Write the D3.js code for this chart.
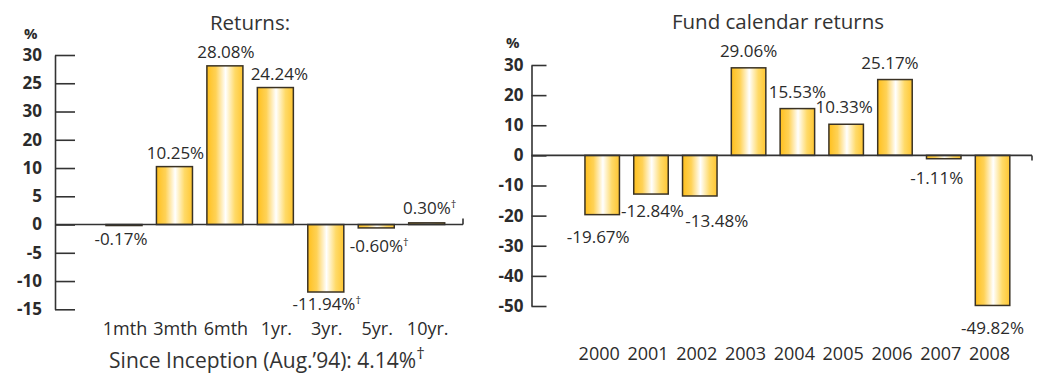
<!DOCTYPE html>
<html>
<head>
<meta charset="utf-8">
<script src="https://cdn.jsdelivr.net/npm/d3@7"></script>
<style>
  html, body { margin: 0; padding: 0; background: #fff; }
  svg { display: block; font-family: "Open Sans", "Noto Sans", sans-serif; }
</style>
</head>
<body>
<svg id="chart" width="1039" height="373"></svg>
<script>
// ---------- DATA ----------
const periodCategories = ["1mth", "3mth", "6mth", "1yr.", "3yr.", "5yr.", "10yr."];
const periodReturns = [-0.17, 10.25, 28.08, 24.24, -11.94, -0.60, 0.30];
const periodDagger = [false, false, false, false, true, true, true];
const periodTickValues = [30, 25, 20, 15, 10, 5, 0, -5, -10, -15];
const periodTickLabels = ["30", "25", "30", "20", "10", "5", "0", "-5", "-10", "-15"];

const yearCategories = ["2000", "2001", "2002", "2003", "2004", "2005", "2006", "2007", "2008"];
const yearReturns = [-19.67, -12.84, -13.48, 29.06, 15.53, 10.33, 25.17, -1.11, -49.82];
const yearTickValues = [30, 20, 10, 0, -10, -20, -30, -40, -50];
const yearTickLabels = ["30", "20", "10", "0", "-10", "-20", "-30", "-40", "-50"];

const leftTitle = "Returns:";
const rightTitle = "Fund calendar returns";
const inceptionText = "Since Inception (Aug.’94): 4.14%";

// ---------- DRAW ----------
const svg = d3.select("#chart");
const textColor = "#2b2b2b";
const axisColor = "#333";

const defs = svg.append("defs");
const grad = defs.append("linearGradient").attr("id", "gold")
  .attr("x1", "0%").attr("x2", "100%").attr("y1", "0%").attr("y2", "0%");
grad.append("stop").attr("offset", "0%").attr("stop-color", "#ffc01e");
grad.append("stop").attr("offset", "25%").attr("stop-color", "#ffd256");
grad.append("stop").attr("offset", "52%").attr("stop-color", "#ffffff");
grad.append("stop").attr("offset", "78%").attr("stop-color", "#ffda68");
grad.append("stop").attr("offset", "100%").attr("stop-color", "#ffc632");

function fmt(v) { return v.toFixed(2) + "%"; }

function drawChart(cfg) {
  const g = svg.append("g");
  const y = d3.scaleLinear().domain(cfg.yDomain).range(cfg.yRange);
  const x = d3.scaleBand().domain(cfg.categories).range(cfg.xRange)
    .paddingInner(cfg.paddingInner).paddingOuter(0);

  // title
  g.append("text").attr("x", cfg.titleX).attr("y", cfg.titleY)
    .attr("text-anchor", "middle").attr("font-size", 20.5)
    .attr("fill", "#333").text(cfg.title);

  // % unit
  g.append("text").attr("x", cfg.pctX).attr("y", cfg.pctY)
    .attr("font-size", 15).attr("font-weight", 700)
    .attr("fill", textColor).text("%");

  // y axis
  const axis = d3.axisLeft(y).tickValues(cfg.tickValues)
    .tickFormat((d, i) => cfg.tickLabels[i])
    .tickSizeInner(-cfg.tickLen).tickSizeOuter(0).tickPadding(cfg.tickPad);
  const ag = g.append("g").attr("transform", `translate(${cfg.axisX},0)`).call(axis);
  ag.select(".domain").attr("stroke", axisColor).attr("stroke-width", 1.6);
  ag.selectAll(".tick line").attr("stroke", axisColor).attr("stroke-width", 1.6);
  ag.selectAll(".tick text").attr("font-size", 17).attr("font-weight", 700)
    .attr("fill", textColor).attr("font-family", "'Open Sans', sans-serif");

  // bars
  g.selectAll("rect.bar").data(cfg.values).enter().append("rect")
    .attr("class", "bar")
    .attr("x", (d, i) => x(cfg.categories[i]))
    .attr("width", x.bandwidth())
    .attr("y", d => y(Math.max(0, d)))
    .attr("height", d => Math.max(1, Math.abs(y(d) - y(0))))
    .attr("fill", "url(#gold)")
    .attr("stroke", "#3a3224").attr("stroke-width", 1.5);

  // zero line
  g.append("line").attr("x1", cfg.axisX).attr("x2", cfg.zeroEnd)
    .attr("y1", y(0)).attr("y2", y(0))
    .attr("stroke", axisColor).attr("stroke-width", 1.6);
  g.append("line").attr("x1", cfg.zeroEnd).attr("x2", cfg.zeroEnd)
    .attr("y1", y(0)).attr("y2", y(0) + cfg.endTick)
    .attr("stroke", axisColor).attr("stroke-width", 1.6);

  // value labels
  cfg.values.forEach((v, i) => {
    const cx = x(cfg.categories[i]) + x.bandwidth() / 2;
    const nudge = cfg.nudge[i];
    const yy = v >= 0 ? y(v) - cfg.posGap : y(v) + cfg.negGap;
    const t = g.append("text")
      .attr("x", cx + nudge[0]).attr("y", yy + nudge[1])
      .attr("text-anchor", "middle").attr("font-size", 17)
      .attr("fill", textColor);
    t.append("tspan").text(fmt(v));
    if (cfg.dagger && cfg.dagger[i]) {
      t.append("tspan").attr("font-size", 11).attr("dy", -6).text("†");
    }
  });

  // category labels
  g.selectAll("text.cat").data(cfg.categories).enter().append("text")
    .attr("class", "cat")
    .attr("x", d => x(d) + x.bandwidth() / 2 + cfg.catDx)
    .attr("y", cfg.catY)
    .attr("text-anchor", "middle").attr("font-size", cfg.catSize)
    .attr("fill", textColor).text(d => d);
  return g;
}

drawChart({
  categories: periodCategories, values: periodReturns, dagger: periodDagger,
  tickValues: periodTickValues, tickLabels: periodTickLabels,
  yDomain: [-15, 30], yRange: [309.3, 55],
  xRange: [106, 444.7], paddingInner: 0.286,
  axisX: 55, tickLen: 20, tickPad: 13, zeroEnd: 463, endTick: -6,
  title: leftTitle, titleX: 250, titleY: 30,
  pctX: 24, pctY: 39,
  posGap: 7.5, negGap: 20,
  nudge: [[-3, 0], [1, 0], [1, 0], [4, 0], [1, -2], [3, 4], [3, -1]],
  catY: 335, catSize: 18, catDx: 1
});

drawChart({
  categories: yearCategories, values: yearReturns, dagger: null,
  tickValues: yearTickValues, tickLabels: yearTickLabels,
  yDomain: [-50, 30], yRange: [306, 65],
  xRange: [584.95, 1009.8], paddingInner: 0.293,
  axisX: 531.5, tickLen: 15, tickPad: 8, zeroEnd: 1032, endTick: 5,
  title: rightTitle, titleX: 778, titleY: 29,
  pctX: 506, pctY: 48,
  posGap: 11, negGap: 25,
  nudge: [[-4, 3], [1.5, -2], [17, 6], [0, 0], [0, 0], [-2, 0], [-5, 0], [-7, 0], [0, 4]],
  catY: 360, catSize: 18, catDx: -3
});

// inception note
const note = svg.append("text").attr("x", 267).attr("y", 367.5)
  .attr("text-anchor", "middle").attr("font-size", 21).attr("fill", "#333");
note.append("tspan").text(inceptionText);
note.append("tspan").attr("font-size", 17).attr("dy", -9).text("†");
</script>
</body>
</html>
